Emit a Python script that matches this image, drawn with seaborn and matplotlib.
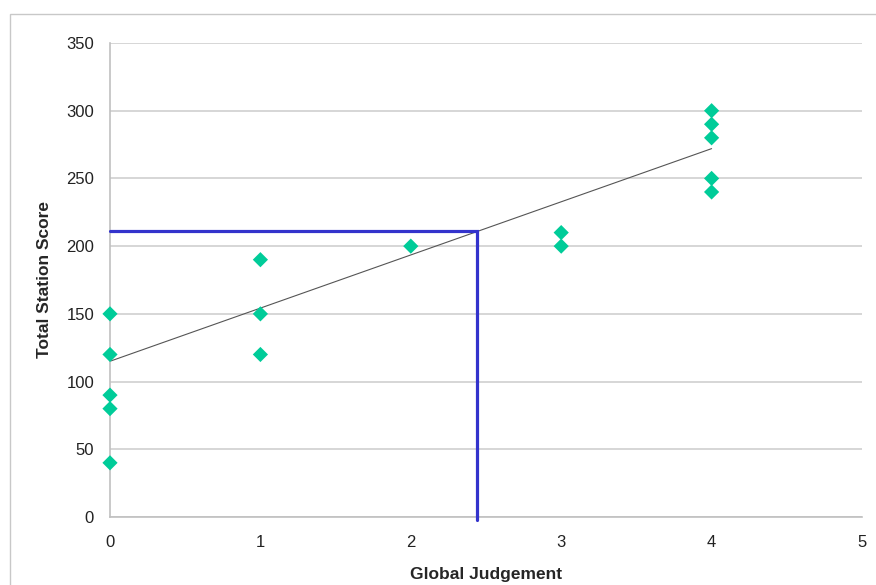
import pandas as pd
import seaborn as sns
import matplotlib.pyplot as plt
from matplotlib.patches import Rectangle

# data
judgement = [0, 0, 0, 0, 0, 1, 1, 1, 2, 3, 3, 4, 4, 4, 4, 4]
score = [150, 120, 90, 80, 40, 190, 150, 120, 200, 210, 200, 300, 290, 280, 250, 240]

# trend line end points
trend_x = [0, 4]
trend_y = [115, 272]

# cut score lookup (blue lines)
cut_x = 2.44
cut_y = 211

df = pd.DataFrame({"Global Judgement": judgement, "Total Station Score": score})

sns.set_style("white")
plt.rcParams["font.family"] = ["Liberation Sans", "DejaVu Sans"]

fig = plt.figure(figsize=(8.76, 5.85), dpi=100)
ax = fig.add_axes([110 / 876, 68 / 585, 752 / 876, 474 / 585])

# outer chart frame
fig.patches.append(Rectangle((10 / 876, -0.1), 1.2, 1 - 14 / 585 + 0.1,
                             transform=fig.transFigure, fill=False,
                             edgecolor="#c8c8c8", linewidth=1.0, zorder=0))

ax.plot(trend_x, trend_y, color="#555555", linewidth=0.8, zorder=2)
ax.plot([0, cut_x, cut_x], [cut_y, cut_y, -2], color="#3333cc",
        linewidth=2.3, zorder=3, clip_on=False, solid_joinstyle="miter")

sns.scatterplot(data=df, x="Global Judgement", y="Total Station Score", ax=ax,
                marker="D", s=60, color="#00cc99", edgecolor="none",
                zorder=4, clip_on=False)

ax.set_xlim(0, 5)
ax.set_ylim(0, 350)
ax.set_xticks(range(0, 6))
ax.set_yticks(range(0, 351, 50))
ax.yaxis.grid(True, color="#d0d0d0", linewidth=1.2)
ax.xaxis.grid(False)
ax.set_axisbelow(True)

for side in ["top", "right"]:
    ax.spines[side].set_visible(False)
for side in ["left", "bottom"]:
    ax.spines[side].set_color("#c0c0c0")
    ax.spines[side].set_linewidth(1.2)

ax.tick_params(axis="both", length=0, labelsize=12, colors="#222222")
ax.tick_params(axis="y", pad=11.5)
ax.tick_params(axis="x", pad=13)

ax.set_xlabel("Global Judgement", fontsize=12.5, fontweight="bold", labelpad=12)
ax.set_ylabel("Total Station Score", fontsize=12.5, fontweight="bold", labelpad=10)

fig.savefig("out.png", dpi=100)
